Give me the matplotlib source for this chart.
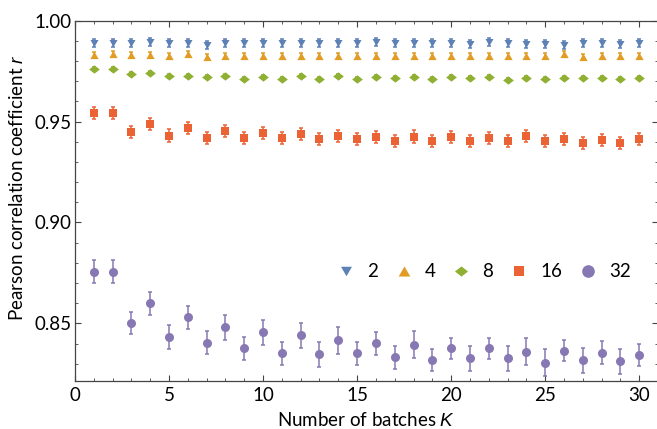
import matplotlib
matplotlib.use("Agg")
import matplotlib.pyplot as plt
from matplotlib.lines import Line2D
from matplotlib.ticker import MultipleLocator, FormatStrFormatter
import numpy as np

K = list(range(1, 31))

r2 = [0.9891, 0.9891, 0.9888, 0.9895, 0.9888, 0.9888, 0.9881, 0.9888, 0.9888, 0.9888,
      0.9888, 0.9888, 0.9888, 0.9888, 0.9888, 0.9895, 0.9888, 0.9888, 0.9888, 0.9888,
      0.9883, 0.9896, 0.9888, 0.9883, 0.9883, 0.9880, 0.9888, 0.9888, 0.9883, 0.9888]
r4 = [0.9830, 0.9833, 0.9830, 0.9830, 0.9827, 0.9833, 0.9822, 0.9827, 0.9827, 0.9827,
      0.9827, 0.9827, 0.9827, 0.9827, 0.9827, 0.9827, 0.9827, 0.9827, 0.9827, 0.9827,
      0.9827, 0.9827, 0.9827, 0.9827, 0.9827, 0.9833, 0.9822, 0.9827, 0.9827, 0.9827]
r8 = [0.9759, 0.9759, 0.9734, 0.9741, 0.9725, 0.9728, 0.9720, 0.9728, 0.9713, 0.9720,
      0.9713, 0.9725, 0.9710, 0.9725, 0.9710, 0.9720, 0.9715, 0.9720, 0.9710, 0.9720,
      0.9715, 0.9720, 0.9705, 0.9715, 0.9710, 0.9715, 0.9715, 0.9715, 0.9710, 0.9715]
r16 = [0.9541, 0.9541, 0.9448, 0.9487, 0.9431, 0.9467, 0.9418, 0.9452, 0.9418, 0.9442,
       0.9418, 0.9438, 0.9413, 0.9429, 0.9413, 0.9424, 0.9403, 0.9426, 0.9403, 0.9424,
       0.9402, 0.9419, 0.9406, 0.9429, 0.9402, 0.9413, 0.9396, 0.9407, 0.9396, 0.9413]
r32 = [0.8757, 0.8757, 0.8500, 0.8599, 0.8434, 0.8530, 0.8404, 0.8480, 0.8376, 0.8455,
       0.8351, 0.8441, 0.8347, 0.8416, 0.8351, 0.8401, 0.8332, 0.8395, 0.8317, 0.8376,
       0.8327, 0.8376, 0.8327, 0.8360, 0.8305, 0.8365, 0.8317, 0.8355, 0.8312, 0.8345]

e2 = [0.0020] * 30
e4 = [0.0015] * 30
e8 = [0.0010] * 30
e16 = [0.0030] * 30
e32 = [0.0056, 0.0056, 0.0054, 0.0059, 0.0060, 0.0057, 0.0058, 0.0063, 0.0057, 0.0064,
       0.0057, 0.0063, 0.0061, 0.0068, 0.0058, 0.0058, 0.0058, 0.0067, 0.0055, 0.0054,
       0.0062, 0.0053, 0.0063, 0.0068, 0.0068, 0.0053, 0.0063, 0.0056, 0.0061, 0.0054]

labels = ["2", "4", "8", "16", "32"]
colors = ["#5E81B5", "#E19C24", "#8FB032", "#EB6235", "#8778B3"]

tri_down = [(-1, 0.866), (1, 0.866), (0, -0.866)]
tri_up = [(-1, -0.866), (1, -0.866), (0, 0.866)]
diamond = [(-1, 0), (0, 0.78), (1, 0), (0, -0.78)]
markers = [tri_down, tri_up, diamond, "s", "o"]
msizes = [5.8, 6.0, 7.7, 5.8, 6.5]
leg_msizes = [7.9, 8.4, 9.4, 6.5, 9.1]

FS = 13.5
plt.rcParams['font.family'] = ['Lato', 'DejaVu Sans']
plt.rcParams['mathtext.fontset'] = 'custom'
plt.rcParams['mathtext.it'] = 'Liberation Sans:italic'
plt.rcParams['mathtext.rm'] = 'Lato'

W, H = 657, 429
fig = plt.figure(figsize=(W / 100, H / 100), dpi=100)
left, right, top, bottom = 75, 658, 20.7, 380.7
ax = fig.add_axes([left / W, 1 - bottom / H, (right - left) / W, (bottom - top) / H])

series = [r2, r4, r8, r16, r32]
errs = [e2, e4, e8, e16, e32]
for y, e, c, m, ms in zip(series, errs, colors, markers, msizes):
    ax.errorbar(K, y, yerr=e, fmt='none', ecolor=c, elinewidth=1.1,
                capsize=1.6, capthick=1.1, zorder=2)
    ax.plot(K, y, linestyle='none', marker=m, markersize=ms, color=c,
            markeredgewidth=0, zorder=3)

ax.set_xlim(0, 31)
ax.set_ylim(0.8216, 1.0)
ax.xaxis.set_major_locator(MultipleLocator(5))
ax.xaxis.set_minor_locator(MultipleLocator(1))
ax.yaxis.set_major_locator(MultipleLocator(0.05))
ax.yaxis.set_minor_locator(MultipleLocator(0.01))
ax.yaxis.set_major_formatter(FormatStrFormatter('%.2f'))

frame_c = '#444444'
for s in ax.spines.values():
    s.set_color(frame_c)
    s.set_linewidth(0.9)
ax.tick_params(which='both', direction='in', top=True, right=True, colors=frame_c,
               labelcolor='black', labelsize=FS)
ax.tick_params(which='major', length=4.5, width=0.8, pad=2.5)
ax.tick_params(which='minor', length=2.5, width=0.6)
ax.tick_params(axis='x', which='major', pad=4.5)

ax.set_xlabel('Number of batches $K$', fontsize=FS)
ax.xaxis.set_label_coords(0.5, -(426 - bottom) / (bottom - top))
ax.xaxis.label.set_va('baseline')
ax.set_ylabel('Pearson correlation coefficient $r$', fontsize=FS)
ax.yaxis.label.set_rotation_mode('default')
ax.yaxis.label.set_va('center')
ax.yaxis.set_label_coords((17.5 - left) / (right - left), (bottom - 187.5) / (bottom - top))

handles = [Line2D([], [], linestyle='none', marker=m, markersize=ms, color=c,
                  markeredgewidth=0)
           for m, ms, c in zip(markers, leg_msizes, colors)]
leg = ax.legend(handles, labels, ncol=5, frameon=False, loc='center left',
                bbox_to_anchor=((346 - 9.4) / W, 1 - 271.7 / H),
                bbox_transform=fig.transFigure, borderpad=0, borderaxespad=0,
                handlelength=1.0, handletextpad=0.62, columnspacing=0.88,
                fontsize=FS)

fig.savefig('out.png', dpi=100)
